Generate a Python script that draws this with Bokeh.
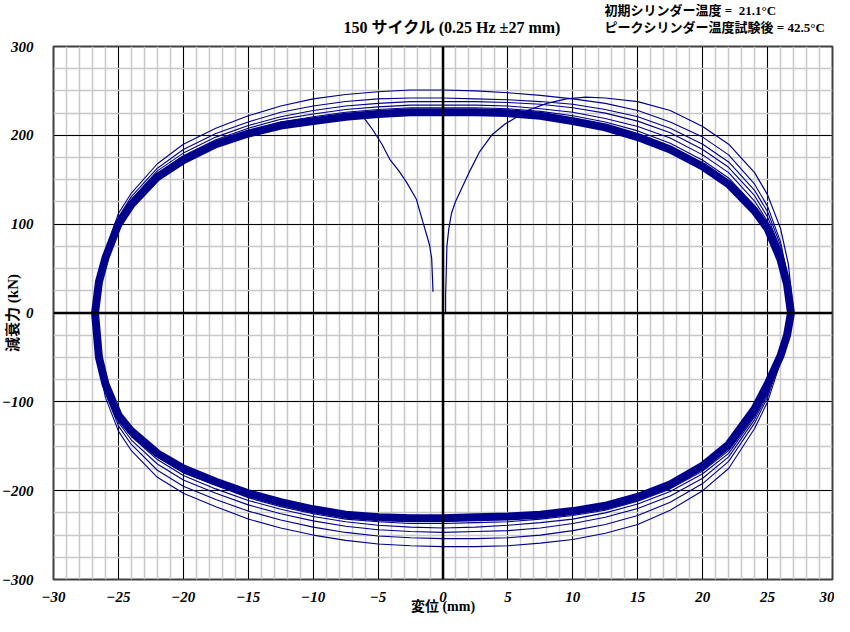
from bokeh.plotting import figure
from bokeh.models import FixedTicker, Span, Label, Range1d
from bokeh.layouts import column
from bokeh.embed import file_html
from bokeh.resources import INLINE

# ---- ticks ----
X_TICKS = [-30, -25, -20, -15, -10, -5, 0, 5, 10, 15, 20, 25, 30]
Y_TICKS = [-300, -200, -100, 0, 100, 200, 300]
X_MINOR = list(range(-30, 31, 1))
Y_MINOR = list(range(-300, 301, 25))

# ---- upper branch (moving +x), common displacement grid (mm) ----
XU = [-26.8, -26.5, -26.0, -25.0, -24.0, -22.0, -20.0, -17.5, -15.0, -12.5, -10.0, -7.5, -5.0, -2.5, 0.0,
      2.5, 5.0, 7.5, 10.0, 12.5, 15.0, 17.5, 20.0, 22.0, 24.0, 25.0, 26.0, 26.5, 26.8]
BAND_U = [0, 35, 62, 100, 122, 153, 172, 190, 202, 211, 216, 221, 224, 226, 226,
          226, 225, 222, 216, 209, 198, 184, 165, 145, 115, 95, 60, 32, 0]
U1 = [0, 40, 70, 112, 135, 168, 190, 208, 222, 233, 241, 246, 249, 251, 251,
      250, 248, 245, 241, 236, 228, 215, 198, 178, 145, 120, 80, 45, 0]
U2 = [0, 38, 67, 108, 131, 163, 184, 202, 215, 226, 233, 238, 241, 242, 242,
      241, 240, 238, 235, 229, 221, 208, 190, 170, 138, 114, 76, 42, 0]
U3 = [0, 37, 65, 105, 128, 160, 180, 198, 211, 221, 228, 233, 236, 238, 238,
      238, 237, 235, 231, 225, 216, 203, 184, 164, 132, 108, 72, 40, 0]
U4 = [0, 36, 64, 103, 126, 157, 177, 195, 208, 218, 224, 229, 232, 234, 234,
      234, 233, 230, 226, 219, 210, 197, 178, 158, 126, 103, 68, 37, 0]
U5 = [0, 36, 63, 102, 124, 155, 175, 193, 205, 215, 221, 226, 229, 231, 231,
      231, 230, 227, 222, 215, 205, 191, 172, 152, 121, 99, 64, 35, 0]

# ---- lower branch (moving -x) ----
XL = [26.8, 26.5, 26.0, 25.0, 24.0, 22.0, 20.0, 17.5, 15.0, 12.5, 10.0, 7.5, 5.0, 2.5, 0.0,
      -2.5, -5.0, -7.5, -10.0, -12.5, -15.0, -17.5, -20.0, -22.0, -24.0, -25.0, -26.0, -26.5, -26.8]
BAND_L = [0, -25, -48, -80, -108, -148, -172, -193, -207, -217, -223, -227, -229, -230, -231,
          -231, -230, -227, -221, -213, -203, -190, -175, -158, -133, -115, -80, -50, 0]
L1 = [0, -28, -55, -100, -130, -175, -200, -222, -238, -248, -255, -259, -262, -263, -263,
      -262, -260, -256, -250, -242, -232, -218, -203, -185, -155, -133, -95, -60, 0]
L2 = [0, -27, -52, -95, -124, -167, -192, -213, -228, -238, -245, -250, -253, -254, -254,
      -253, -251, -247, -241, -233, -223, -210, -195, -177, -148, -127, -90, -57, 0]
L3 = [0, -26, -51, -92, -120, -162, -186, -206, -220, -230, -237, -242, -245, -246, -247,
      -246, -244, -240, -234, -226, -216, -203, -188, -170, -143, -123, -87, -55, 0]
L4 = [0, -26, -50, -90, -117, -158, -181, -201, -215, -225, -232, -236, -239, -241, -242,
      -241, -239, -235, -229, -221, -211, -198, -183, -165, -139, -120, -85, -53, 0]
L5 = [0, -25, -49, -88, -115, -155, -178, -198, -212, -222, -228, -232, -235, -236, -237,
      -237, -235, -232, -226, -218, -208, -194, -180, -162, -136, -118, -83, -52, 0]

# ---- initial transients ----
INIT_R_X = [0.2, 0.2, 0.25, 0.3, 0.45, 0.65, 0.95, 1.3, 2.0, 2.8, 3.8, 4.8, 5.5, 6.5, 8.0, 9.5, 11.0, 12.5,
            15.0, 17.5, 20.0, 22.0, 24.0, 25.0, 26.0, 26.6, 27.0]
INIT_R_F = [0, 20, 45, 75, 95, 112, 125, 136, 158, 181, 201, 213, 219, 228, 236, 241, 243, 242,
            238, 228, 210, 190, 158, 133, 95, 55, 0]
INIT_L_X = [-6.5, -6.0, -5.4, -4.7, -4.1, -3.4, -2.8, -2.05, -1.54, -1.2, -1.03, -0.87, -0.82, -0.77]
INIT_L_F = [222, 218, 206, 190, 173, 160, 147, 128, 102, 85, 76, 61, 43, 24]

TITLE = "150 サイクル (0.25 Hz ±27 mm)"
NOTE1 = "初期シリンダー温度 = \u00a021.1°C"
NOTE2 = "ピークシリンダー温度試験後 = 42.5°C"
XLABEL = "変位 (mm)"
YLABEL = "減衰力 (kN)"

NAVY = "#00008b"
SERIF = "Liberation Serif, Noto Sans CJK JP"
W = 834
HEAD_H = 36

# ---- header strip holding the title and the temperature notes ----
head = figure(width=W, height=HEAD_H, output_backend="svg", toolbar_location=None,
              x_range=Range1d(0, W), y_range=Range1d(0, HEAD_H),
              x_axis_type=None, y_axis_type=None, min_border=0, title=None)
head.outline_line_color = None
head.background_fill_color = "white"
head.border_fill_color = "white"
head.xgrid.visible = False
head.ygrid.visible = False

def lab(x, y, text, size, align="left"):
    return Label(x=x, y=y, text=text, text_align=align, text_baseline="middle",
                 text_font=SERIF, text_font_style="bold", text_font_size=size, text_color="black")

head.add_layout(lab(427, 9, TITLE, "16px", "center"))
head.add_layout(lab(590, 26, NOTE1, "13px"))
head.add_layout(lab(590, 9, NOTE2, "13px"))

# ---- main chart ----
p = figure(width=W, height=616 - HEAD_H, output_backend="svg", toolbar_location=None,
           x_range=Range1d(-30, 30), y_range=Range1d(-300, 300), title=None,
           min_border_left=53, min_border_right=2, min_border_top=10, min_border_bottom=35)
p.background_fill_color = "white"
p.border_fill_color = "white"
p.outline_line_color = "#404040"
p.outline_line_width = 2

p.xaxis.ticker = FixedTicker(ticks=X_TICKS, minor_ticks=X_MINOR)
p.yaxis.ticker = FixedTicker(ticks=Y_TICKS, minor_ticks=Y_MINOR)
for ax in (p.xaxis[0], p.yaxis[0]):
    ax.axis_line_color = None
    ax.major_tick_line_color = None
    ax.minor_tick_line_color = None
    ax.major_label_text_font = "Liberation Serif"
    ax.major_label_text_font_style = "bold italic"
    ax.major_label_text_font_size = "15px"
    ax.major_label_text_color = "black"
    ax.axis_label_text_font = SERIF
    ax.axis_label_text_font_style = "bold"
    ax.axis_label_text_color = "black"
p.xaxis.axis_label = XLABEL
p.yaxis.axis_label = YLABEL
p.xaxis.axis_label_text_font_size = "14px"
p.yaxis.axis_label_text_font_size = "15px"
p.xaxis.major_label_standoff = 6
p.yaxis.major_label_standoff = 14
p.xaxis.axis_label_standoff = -6
p.yaxis.axis_label_standoff = -22

p.xgrid.grid_line_color = "black"
p.ygrid.grid_line_color = "black"
p.xgrid.grid_line_width = 1
p.ygrid.grid_line_width = 1
p.xgrid.minor_grid_line_color = "#c8c8c8"
p.ygrid.minor_grid_line_color = "#c8c8c8"
p.xgrid.minor_grid_line_width = 1.5
p.ygrid.minor_grid_line_width = 1.5

# thin outer cycles
for fu in (U1, U2, U3, U4, U5):
    p.line(XU, fu, line_color=NAVY, line_width=1.1)
for fl in (L1, L2, L3, L4, L5):
    p.line(XL, fl, line_color=NAVY, line_width=1.1)
# thick band of steady cycles
p.line(XU + XL, BAND_U + BAND_L, line_color=NAVY, line_width=8, line_join="round")
# transients
p.line(INIT_R_X, INIT_R_F, line_color=NAVY, line_width=1.2)
p.line(INIT_L_X, INIT_L_F, line_color=NAVY, line_width=1.2)

p.add_layout(Span(location=0, dimension="width", line_color="black", line_width=2.5))
p.add_layout(Span(location=0, dimension="height", line_color="black", line_width=2.5))

layout = column(head, p, spacing=0)
open("out.html", "w").write(file_html(layout, INLINE))
